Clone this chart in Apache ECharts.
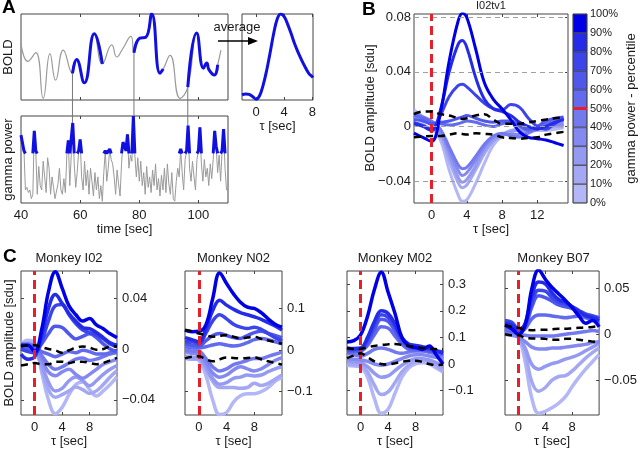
<!DOCTYPE html>
<html><head><meta charset="utf-8">
<script src="https://cdn.jsdelivr.net/npm/echarts@6/dist/echarts.min.js"></script>
<style>html,body{margin:0;padding:0;background:#fff}#c{width:640px;height:450px}</style>
</head><body><div id="c"></div>
<script>
// ---------------- DATA ----------------
// Panel A: BOLD trace (time [sec], normalised BOLD)
const BOLD_PTS = [[40.0,0.66],[42.3,0.45],[45.0,0.55],[47.5,0.02],[49.8,0.54],[51.7,0.23],[54.3,0.58],[57.4,0.31],[58.8,0.47],[61.4,0.20],[64.8,0.77],[67.5,0.42],[70.7,0.64],[72.4,0.50],[74.3,0.59],[77.2,0.74],[78.2,0.55],[80.2,0.72],[82.2,0.73],[84.2,1.0],[87.0,0.31],[88.1,0.36],[90.4,0.52],[93.8,0.02],[96.4,0.15],[99.4,0.78],[101.7,0.37],[102.8,0.43],[103.6,0.35],[105.4,0.29],[106.5,0.41],[107.6,0.58]];
const BOLD_SEGMENTS = [[57.4,67.5],[78.2,88.1],[96.4,106.5]];
// Panel A: gamma power, sampled every 0.5 s from 40 s
const GAMMA_T0 = 40, GAMMA_DT = 0.5;
const GAMMA = [0.78,0.80,0.60,0.15,0.18,0.12,0.15,0.05,0.10,0.83,0.60,0.10,0.42,0.20,0.15,0.48,0.30,0.12,0.52,0.40,
0.10,0.30,0.18,0.05,0.03,0.22,0.40,0.15,0.10,0.28,0.12,0.55,0.72,0.20,0.55,0.92,0.45,0.18,0.35,0.60,
0.73,0.30,0.15,0.48,0.20,0.38,0.10,0.40,0.25,0.08,0.35,0.15,0.30,0.05,0.20,0.02,0.35,0.60,0.25,0.40,
0.62,0.50,0.45,0.30,0.10,0.38,0.22,0.08,0.45,0.70,0.68,0.60,0.79,0.40,0.55,0.48,1.00,0.55,0.30,0.52,
0.25,0.48,0.20,0.35,0.10,0.42,0.18,0.30,0.12,0.38,0.20,0.45,0.15,0.28,0.08,0.32,0.15,0.40,0.12,0.45,
0.22,0.10,0.35,0.05,0.02,0.25,0.40,0.30,0.62,0.35,0.15,0.50,0.60,0.89,0.40,0.25,0.48,0.30,0.15,0.50,
0.60,0.87,0.45,0.25,0.50,0.30,0.40,0.20,0.45,0.28,0.50,0.83,0.65,0.35,0.55,0.25,0.60,0.85,0.40,0.15,0.14];
const GAMMA_THR = 0.57;
// Panel A: averaged response
const AVG_TAU = [-2,-1.5,-1,-0.5,0,0.5,1,1.5,2,2.5,3,3.5,4,4.5,5,5.5,6,6.5,7,7.5,8,8.1];
const AVG_VAL = [0.06,0.07,0.065,0.04,0.01,0.05,0.17,0.34,0.55,0.77,0.94,1.0,0.97,0.88,0.77,0.65,0.55,0.46,0.38,0.31,0.27,0.26];

// Panel B (I02tv1): decile curves, lightest (0-10%) to darkest (90-100%)
const B_TAU = [-2,-1,0,1,2,3,3.5,4,5,6,7,8,9,10,11,12,13,14,15];
const B_DECILES = [
 [0.012,0.007,0.000,-0.010,-0.032,-0.050,-0.055,-0.054,-0.042,-0.027,-0.014,-0.007,-0.004,-0.002,-0.002,-0.003,-0.003,-0.002,-0.001],
 [0.010,0.006,0.001,-0.007,-0.025,-0.041,-0.045,-0.043,-0.032,-0.020,-0.011,-0.006,-0.003,-0.002,-0.002,-0.001,-0.002,0.000,0.000],
 [0.006,0.004,0.002,-0.005,-0.021,-0.037,-0.041,-0.039,-0.029,-0.017,-0.010,-0.006,-0.004,-0.003,-0.003,-0.001,0.000,0.001,0.001],
 [0.008,0.006,0.003,-0.003,-0.018,-0.032,-0.036,-0.034,-0.025,-0.015,-0.008,-0.006,-0.006,-0.006,-0.004,-0.002,0.000,0.001,0.002],
 [0.010,0.007,0.004,-0.002,-0.015,-0.028,-0.031,-0.030,-0.022,-0.013,-0.007,-0.005,-0.007,-0.008,-0.005,-0.002,0.001,0.003,0.004],
 [0.008,0.006,0.003,0.002,0.001,0.002,0.003,0.004,0.003,0.001,0.000,0.002,0.003,0.000,-0.003,-0.001,0.002,0.004,0.005],
 [0.005,0.004,0.002,0.003,0.004,0.006,0.007,0.008,0.006,0.004,0.003,0.004,0.004,0.001,-0.002,0.000,0.004,0.006,0.007],
 [0.003,0.001,-0.002,0.008,0.022,0.030,0.031,0.029,0.023,0.017,0.013,0.012,0.016,0.014,0.006,0.000,-0.002,0.002,0.006],
 [0.002,0.000,-0.003,0.012,0.040,0.060,0.063,0.058,0.036,0.020,0.013,0.011,0.008,0.003,0.000,-0.002,0.000,0.003,0.005],
 [-0.005,-0.008,-0.011,0.010,0.048,0.077,0.083,0.080,0.057,0.032,0.020,0.013,0.005,-0.004,-0.008,-0.009,-0.010,-0.012,-0.014]
];
const B_UPPER = [0.009,0.011,0.011,0.009,0.008,0.006,0.0055,0.006,0.008,0.009,0.005,0.002,0.002,0.002,0.003,0.004,0.005,0.006,0.0066];
const B_LOWER = [-0.008,-0.0075,-0.007,-0.007,-0.006,-0.005,-0.0055,-0.006,-0.005,-0.0055,-0.006,-0.008,-0.0085,-0.009,-0.0085,-0.008,-0.006,-0.005,-0.004];
const B_GRIDLINES = [0.08,0.04,0,-0.04];
const CB_LEVELS = [0,10,20,30,40,50,60,70,80,90];
const CB_MARK = 50;

// Panel C
const C_TAU = [-2,-1,0,1,2,3,4,5,6,7,8,9,10,11,12];
const C_TITLES = ['Monkey I02','Monkey N02','Monkey M02','Monkey B07'];
const C1_DECILES = [
 [0.004,0.007,0.005,-0.018,-0.040,-0.051,-0.046,-0.036,-0.028,-0.026,-0.032,-0.037,-0.033,-0.028,-0.022],
 [0.003,0.005,0.002,-0.015,-0.032,-0.038,-0.036,-0.033,-0.030,-0.032,-0.035,-0.033,-0.028,-0.022,-0.017],
 [0.000,0.001,-0.002,-0.012,-0.026,-0.033,-0.031,-0.025,-0.022,-0.025,-0.029,-0.025,-0.020,-0.016,-0.013],
 [0.002,0.003,0.000,-0.008,-0.018,-0.021,-0.018,-0.016,-0.020,-0.023,-0.020,-0.016,-0.012,-0.010,-0.008],
 [0.004,0.004,0.002,-0.005,-0.012,-0.016,-0.014,-0.011,-0.008,-0.007,-0.009,-0.008,-0.006,-0.004,-0.003],
 [0.002,0.003,0.001,-0.002,-0.004,-0.006,-0.004,-0.002,-0.003,-0.001,-0.002,-0.004,-0.004,-0.003,-0.002],
 [0.001,0.000,-0.002,0.004,0.012,0.018,0.017,0.012,0.008,0.010,0.012,0.009,0.004,0.000,-0.002],
 [0.000,-0.002,-0.003,0.006,0.022,0.034,0.035,0.027,0.020,0.015,0.013,0.011,0.008,0.004,0.002],
 [-0.004,-0.008,-0.006,0.010,0.032,0.043,0.036,0.028,0.022,0.017,0.016,0.013,0.009,0.005,0.003],
 [0.003,0.003,-0.002,0.015,0.045,0.061,0.048,0.034,0.027,0.022,0.024,0.019,0.016,0.012,0.009]
];
const C1_UPPER = [0.002,0.003,0.003,0.0015,0.000,-0.001,-0.003,-0.001,0.001,0.002,0.001,-0.0005,0.000,0.002,0.002];
const C1_LOWER = [-0.013,-0.012,-0.011,-0.012,-0.012,-0.010,-0.010,-0.011,-0.010,-0.010,-0.011,-0.012,-0.011,-0.009,-0.007];
const C2_DECILES = [
 [-0.020,-0.020,-0.025,-0.060,-0.120,-0.155,-0.150,-0.125,-0.110,-0.105,-0.105,-0.100,-0.090,-0.075,-0.065],
 [-0.020,-0.022,-0.022,-0.045,-0.075,-0.090,-0.090,-0.090,-0.092,-0.090,-0.080,-0.085,-0.080,-0.070,-0.060],
 [-0.015,-0.018,-0.020,-0.040,-0.068,-0.082,-0.078,-0.068,-0.065,-0.060,-0.062,-0.060,-0.052,-0.045,-0.040],
 [-0.005,-0.008,-0.010,-0.030,-0.055,-0.065,-0.060,-0.048,-0.040,-0.045,-0.050,-0.045,-0.035,-0.025,-0.018],
 [0.000,-0.002,-0.003,-0.020,-0.040,-0.050,-0.045,-0.035,-0.030,-0.025,-0.020,-0.020,-0.015,-0.010,-0.005],
 [0.008,0.006,0.005,0.008,0.012,0.015,0.012,0.010,0.012,0.018,0.025,0.028,0.025,0.020,0.015],
 [0.015,0.012,0.010,0.022,0.035,0.040,0.035,0.030,0.028,0.035,0.042,0.045,0.040,0.035,0.030],
 [0.020,0.020,0.015,0.040,0.070,0.085,0.075,0.062,0.055,0.052,0.055,0.050,0.040,0.030,0.022],
 [0.030,0.025,0.020,0.050,0.095,0.120,0.108,0.098,0.090,0.085,0.080,0.074,0.066,0.058,0.048],
 [0.048,0.044,0.045,0.060,0.124,0.185,0.160,0.135,0.115,0.103,0.100,0.090,0.075,0.062,0.055]
];
const C2_UPPER = [0.048,0.045,0.040,0.036,0.032,0.034,0.036,0.032,0.028,0.030,0.032,0.027,0.023,0.019,0.015];
const C2_LOWER = [-0.020,-0.016,-0.015,-0.022,-0.027,-0.022,-0.018,-0.019,-0.020,-0.019,-0.018,-0.022,-0.027,-0.031,-0.035];
const C3_DECILES = [
 [-0.005,-0.008,-0.012,-0.050,-0.130,-0.185,-0.170,-0.110,-0.050,-0.015,0.000,0.005,0.000,-0.015,-0.030],
 [0.000,-0.002,-0.005,-0.030,-0.080,-0.115,-0.105,-0.070,-0.030,-0.005,0.010,0.015,0.010,-0.005,-0.025],
 [0.010,0.008,0.005,-0.010,-0.035,-0.050,-0.045,-0.025,-0.005,0.010,0.020,0.020,0.015,0.005,-0.010],
 [0.020,0.018,0.015,0.010,0.000,-0.005,0.000,0.010,0.020,0.030,0.035,0.035,0.030,0.025,0.020],
 [0.040,0.035,0.030,0.040,0.055,0.060,0.055,0.045,0.040,0.045,0.050,0.050,0.045,0.040,0.030],
 [0.045,0.045,0.048,0.070,0.110,0.140,0.135,0.105,0.075,0.055,0.050,0.050,0.045,0.040,0.035],
 [0.050,0.050,0.052,0.080,0.130,0.168,0.160,0.125,0.085,0.062,0.058,0.055,0.050,0.048,0.042],
 [0.055,0.055,0.058,0.090,0.145,0.185,0.175,0.140,0.095,0.070,0.065,0.060,0.055,0.050,0.045],
 [0.060,0.058,0.060,0.100,0.160,0.200,0.190,0.150,0.100,0.075,0.070,0.065,0.060,0.050,0.040],
 [0.083,0.088,0.110,0.180,0.280,0.345,0.270,0.190,0.100,0.068,0.062,0.055,0.068,0.035,0.000]
];
const C3_UPPER = [0.060,0.056,0.057,0.063,0.068,0.072,0.074,0.075,0.072,0.068,0.064,0.060,0.058,0.056,0.055];
const C3_LOWER = [0.022,0.032,0.040,0.025,0.010,0.000,-0.002,0.003,0.008,0.012,0.012,0.008,0.000,-0.004,-0.002];
const C4_DECILES = [
 [0.008,0.005,-0.002,-0.030,-0.070,-0.086,-0.084,-0.080,-0.075,-0.068,-0.057,-0.047,-0.038,-0.030,-0.022],
 [0.005,0.003,-0.002,-0.020,-0.052,-0.062,-0.058,-0.050,-0.046,-0.045,-0.040,-0.033,-0.026,-0.020,-0.015],
 [0.002,0.000,-0.003,-0.015,-0.033,-0.038,-0.035,-0.032,-0.030,-0.027,-0.025,-0.022,-0.018,-0.014,-0.010],
 [0.000,-0.001,-0.003,-0.008,-0.014,-0.016,-0.016,-0.015,-0.015,-0.014,-0.013,-0.012,-0.011,-0.009,-0.008],
 [0.003,0.002,0.000,-0.001,-0.002,-0.002,-0.002,-0.002,-0.001,0.000,0.001,0.002,0.003,0.004,0.003],
 [0.005,0.003,0.002,0.006,0.017,0.021,0.021,0.020,0.019,0.018,0.019,0.020,0.018,0.016,0.014],
 [0.008,0.008,0.004,0.008,0.030,0.042,0.040,0.036,0.032,0.030,0.028,0.025,0.022,0.020,0.018],
 [0.015,0.013,0.006,0.010,0.035,0.048,0.047,0.040,0.035,0.033,0.030,0.026,0.022,0.020,0.017],
 [0.012,0.010,0.005,0.012,0.042,0.057,0.055,0.045,0.038,0.035,0.030,0.025,0.020,0.018,0.015],
 [0.010,0.006,0.000,0.010,0.050,0.070,0.060,0.051,0.044,0.037,0.029,0.020,0.012,0.015,0.008]
];
const C4_UPPER = [0.010,0.008,0.007,0.005,0.0045,0.005,0.005,0.0055,0.006,0.006,0.0065,0.007,0.0075,0.008,0.009];
const C4_LOWER = [0.000,-0.001,-0.001,-0.004,-0.0045,-0.0045,-0.005,-0.006,-0.006,-0.005,-0.005,-0.006,-0.007,-0.008,-0.0085];

// ---------------- STYLE ----------------
const FONT = '"Liberation Sans", Arial, Helvetica, sans-serif';
const TXT = '#1a1a1a', AXC = '#444';
const BLUE = '#1010e0', GRAY = '#9a9a9a', RED = '#e6202a';
const PALETTE = ['#b4b7f5','#a4a8f3','#9499f1','#8389f0','#737aee','#626aed','#4f58eb','#3c45ea','#242ce8','#0000e6'];

const fmt = v => String(v).replace('-', '\u2212');
const grids = [], xAxes = [], yAxes = [], series = [];

function mkAxis(gi, pos, r, ticks, labels, name, gap, margin, isY) {
  const a = {type:'value', gridIndex:gi, position:pos, min:r[0], max:r[1],
    axisLine:{show:false, onZero:false}, splitLine:{show:false},
    axisTick:{show:!!(ticks && ticks.length), inside:true, length:3, lineStyle:{color:AXC, width:1}},
    axisLabel:{show:!!(labels && labels.length), margin: margin == null ? 5 : margin, fontFamily:FONT, fontSize:13, color:TXT, formatter:fmt},
    name: name || '', nameLocation:'middle', nameGap: gap || 0,
    nameTextStyle:{fontFamily:FONT, fontSize:13, color:TXT}};
  if (ticks && ticks.length) a.axisTick.customValues = ticks;
  if (labels && labels.length) a.axisLabel.customValues = labels;
  if (isY) a.nameRotate = 90;
  return a;
}
function addPanel(c) {
  const gi = grids.length;
  grids.push({left:c.left, top:c.top, width:c.width, height:c.height, show:true, borderColor:AXC, borderWidth:1});
  const xi = xAxes.length, yi = yAxes.length;
  xAxes.push(mkAxis(gi, 'bottom', c.x, c.xt, c.xl, c.xn, c.xg, c.xm, false));
  xAxes.push(mkAxis(gi, 'top', c.x, c.xt, null, null, 0, 0, false));
  const side = c.ySide || 'left';
  yAxes.push(mkAxis(gi, side, c.y, c.yt, c.yl, c.yn, c.yg, c.ym, true));
  yAxes.push(mkAxis(gi, side === 'left' ? 'right' : 'left', c.y, c.yt, null, c.yn2, c.yg2, 0, true));
  return {xi, yi, gi};
}
function addLine(p, data, color, width, extra) {
  const s = Object.assign({type:'line', xAxisIndex:p.xi, yAxisIndex:p.yi, data, showSymbol:false, symbol:'none',
    smooth:0.4, lineStyle:{color, width}, silent:true, z:3, animation:false}, extra || {});
  series.push(s);
  return s;
}
const zip = (xs, ys) => xs.map((x, i) => [x, ys[i]]);

// ---------------- PANEL A ----------------
const pBold = addPanel({left:21, top:14, width:207, height:86, x:[40,110], y:[0,1],
  xt:[60,80,100], yn:'BOLD', yg:6});
const pGam = addPanel({left:21, top:116, width:207, height:87, x:[40,110], y:[0,1],
  xt:[60,80,100], xl:[40,60,80,100], xn:'time [sec]', xg:20, xm:6, yn:'gamma power', yg:6});
const pAvg = addPanel({left:242, top:14, width:71, height:86, x:[-2,8.1], y:[0,1],
  xt:[0,4,8], xl:[0,4,8], xn:'\u03c4 [sec]', xg:20, xm:6});

addLine(pBold, BOLD_PTS, GRAY, 1.2, {smooth:0.5});
BOLD_SEGMENTS.forEach(sg => addLine(pBold, BOLD_PTS.filter(p => p[0] >= sg[0] && p[0] <= sg[1]), BLUE, 3, {smooth:0.5, z:4}));

const gammaData = GAMMA.map((v, i) => [GAMMA_T0 + i * GAMMA_DT, v]);
addLine(pGam, gammaData, GRAY, 1, {smooth:false});
const gammaBlue = GAMMA.map((v, i) => {
  const t = GAMMA_T0 + i * GAMMA_DT;
  if (v >= GAMMA_THR) return [t, v];
  if ((GAMMA[i-1] >= GAMMA_THR) || (GAMMA[i+1] >= GAMMA_THR)) return [t, GAMMA_THR];
  return [t, null];
});
addLine(pGam, gammaBlue, BLUE, 3, {smooth:false, z:4, connectNulls:false});
addLine(pAvg, zip(AVG_TAU, AVG_VAL), BLUE, 3, {smooth:0.4});

// ---------------- PANEL B ----------------
const pB = addPanel({left:414, top:14, width:154, height:189, x:[-2,15.5], y:[-0.0562,0.0825],
  xt:[0,4,8,12], xl:[0,4,8,12], xn:'\u03c4 [sec]', xg:20, xm:6,
  yt:[-0.04,0,0.04,0.08], yl:[-0.04,0,0.04,0.08], ym:3});
B_DECILES.forEach((d, k) => {
  const s = addLine(pB, zip(B_TAU, d), PALETTE[k], 3, {z: k === 0 ? 1 : 3});
  if (k === 0) s.markLine = {silent:true, symbol:['none','none'], label:{show:false}, animation:false,
    lineStyle:{color:'#a0a0a0', width:1, type:[5,4]}, data: B_GRIDLINES.map(v => ({yAxis:v}))};
});
addLine(pB, zip(B_TAU, B_UPPER), '#000', 2.5, {z:5, lineStyle:{color:'#000', width:2.5, type:[7,5]}});
const bLow = addLine(pB, zip(B_TAU, B_LOWER), '#000', 2.5, {z:5, lineStyle:{color:'#000', width:2.5, type:[7,5]}});
bLow.markLine = {silent:true, symbol:['none','none'], label:{show:false}, animation:false,
  lineStyle:{color:RED, width:3, type:[9,5]}, data:[{xAxis:0}]};

// colorbar
const cbGi = grids.length;
grids.push({left:573, top:14, width:14, height:189, show:true, borderColor:AXC, borderWidth:1});
const cbXi = xAxes.length, cbYi = yAxes.length;
xAxes.push({type:'category', gridIndex:cbGi, data:['cb'], show:false});
yAxes.push({type:'value', gridIndex:cbGi, position:'right', min:0, max:100, interval:10,
  axisLine:{show:false, onZero:false}, axisTick:{show:false}, splitLine:{show:false},
  axisLabel:{margin:3, fontFamily:FONT, fontSize:11, color:TXT, formatter: v => v + '%'},
  name:'gamma power - percentile', nameLocation:'middle', nameRotate:90, nameGap:38,
  nameTextStyle:{fontFamily:FONT, fontSize:13, color:TXT}});
CB_LEVELS.forEach((lv, k) => {
  const s = {type:'bar', xAxisIndex:cbXi, yAxisIndex:cbYi, stack:'cb', data:[10], barWidth:'100%', silent:true, animation:false,
    itemStyle:{color:PALETTE[k], borderColor:'#222', borderWidth:0.6}};
  if (k === CB_LEVELS.length - 1) s.markLine = {silent:true, symbol:['none','none'], label:{show:false}, animation:false,
    lineStyle:{color:RED, width:3, type:'solid'}, data:[{yAxis:CB_MARK}]};
  series.push(s);
});

// ---------------- PANEL C ----------------
const C_CFG = [
  {left:21, width:96, y:[-0.052,0.0615], t:[-0.04,0,0.04], dec:C1_DECILES, up:C1_UPPER, lo:C1_LOWER, name:true},
  {left:185, width:97, y:[-0.156,0.19], t:[-0.1,0,0.1], dec:C2_DECILES, up:C2_UPPER, lo:C2_LOWER},
  {left:347, width:96, y:[-0.192,0.35], t:[-0.1,0,0.1,0.2,0.3], dec:C3_DECILES, up:C3_UPPER, lo:C3_LOWER},
  {left:505, width:97, y:[-0.088,0.069], t:[-0.05,0,0.05], dec:C4_DECILES, up:C4_UPPER, lo:C4_LOWER}
];
const cPanels = C_CFG.map(c => {
  const p = addPanel({left:c.left, top:271, width:c.width, height:144, x:[-2,12], y:c.y,
    xt:[0,4,8], xl:[0,4,8], xn:'\u03c4 [sec]', xg:18, xm:6,
    ySide:'right', yt:c.t, yl:c.t, ym:5,
    yn2: c.name ? 'BOLD amplitude [sdu]' : '', yg2:5});
  c.dec.forEach((d, k) => addLine(p, zip(C_TAU, d), PALETTE[k], 3.5, {z:3}));
  addLine(p, zip(C_TAU, c.up), '#000', 2.5, {z:5, lineStyle:{color:'#000', width:2.5, type:[7,5]}});
  const lo = addLine(p, zip(C_TAU, c.lo), '#000', 2.5, {z:5, lineStyle:{color:'#000', width:2.5, type:[7,5]}});
  lo.markLine = {silent:true, symbol:['none','none'], label:{show:false}, animation:false,
    lineStyle:{color:RED, width:3, type:[9,5]}, data:[{xAxis:0}]};
  return p;
});

// ---------------- GRAPHIC TEXT ----------------
const txt = (x, y, s, o, extra) => Object.assign({type:'text', x, y, silent:true,
  style:Object.assign({text:s, font:'13px ' + FONT, fill:TXT, textAlign:'center', textVerticalAlign:'middle'}, (o||{}))}, extra || {});
const baseGraphic = [
  txt(2, 8, 'A', {font:'bold 19px ' + FONT, textAlign:'left', fill:'#000'}),
  txt(362, 10, 'B', {font:'bold 19px ' + FONT, textAlign:'left', fill:'#000'}),
  txt(3, 257, 'C', {font:'bold 19px ' + FONT, textAlign:'left', fill:'#000'}),
  txt(237, 27, 'average'),
  {type:'line', silent:true, shape:{x1:218, y1:41, x2:250, y2:41}, style:{stroke:'#000', lineWidth:1.5}},
  {type:'polygon', silent:true, shape:{points:[[248,37],[258,41],[248,45]]}, style:{fill:'#000'}},
  txt(491, 6, 'I02tv1', {font:'11px ' + FONT}),
  txt(370, 108, 'BOLD amplitude [sdu]', null, {rotation:Math.PI / 2})
];
C_CFG.forEach((c, i) => baseGraphic.push(txt(c.left + c.width / 2, 258, C_TITLES[i])));

const chart = echarts.init(document.getElementById('c'), null, {renderer:'canvas'});
chart.setOption({animation:false, backgroundColor:'#fff', grid:grids, xAxis:xAxes, yAxis:yAxes, series, graphic:baseGraphic});

// connectors between BOLD onsets and gamma events (via the chart's own scales)
const conn = BOLD_SEGMENTS.map(sg => {
  const start = BOLD_PTS.find(p => p[0] === sg[0]);
  let gPeak = 0;
  GAMMA.forEach((v, i) => { const t = GAMMA_T0 + i * GAMMA_DT; if (Math.abs(t - sg[0]) <= 0.6) gPeak = Math.max(gPeak, v); });
  const p1 = chart.convertToPixel({xAxisIndex:pBold.xi, yAxisIndex:pBold.yi}, start);
  const p2 = chart.convertToPixel({xAxisIndex:pGam.xi, yAxisIndex:pGam.yi}, [sg[0], gPeak]);
  return {type:'line', silent:true, z:1, shape:{x1:p1[0], y1:p1[1], x2:p1[0], y2:p2[1]}, style:{stroke:'#777', lineWidth:1}};
});
chart.setOption({graphic: baseGraphic.concat(conn)});
</script></body></html>
